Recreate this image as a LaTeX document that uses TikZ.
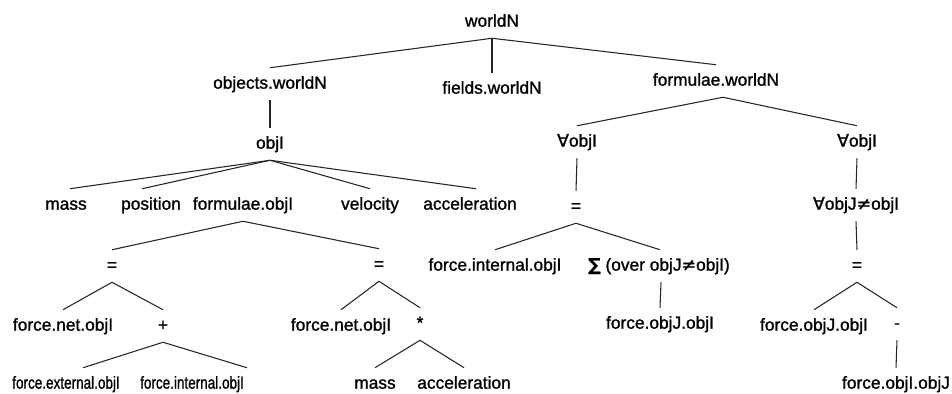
\documentclass[tikz,border=0pt]{standalone}
\usepackage{fontspec}
\setmainfont{Liberation Sans}[FakeBold=1.2]
\newfontfamily\symf{DejaVu Sans}[FakeBold=1.2]
\usetikzlibrary{calc}
\newcommand{\nar}[1]{\scalebox{0.78}[1]{#1}}
\begin{document}
\begin{tikzpicture}[x=0.75pt,y=-0.75pt,
  lbl/.style={font=\fontsize{13}{15}\selectfont, text height=10pt, text depth=3pt,
              inner ysep=5.5pt, inner xsep=0pt, anchor=center},
  br/.style={draw=black!85, line width=0.8pt}]
\useasboundingbox (0,0) rectangle (952,393);
% row 1
\node[lbl] (w) at (492,22) {worldN};
% row 2
\node[lbl] (ow) at (270,84) {objects.worldN};
\node[lbl] (fld) at (492,89) {fields.worldN};
\node[lbl] (fw) at (716,81) {formulae.worldN};
% row 3
\node[lbl] (oi) at (270,144) {objI};
\node[lbl] (fa) at (577,142) {{\symf ∀}objI};
\node[lbl] (fb) at (857,142) {{\symf ∀}objI};
% row 4
\node[lbl] (mass) at (66,205) {mass};
\node[lbl] (pos) at (151,205) {position};
\node[lbl] (fo) at (243,205) {formulae.objI};
\node[lbl] (vel) at (370,205) {velocity};
\node[lbl] (acc) at (470,205) {acceleration};
\node[lbl] (eq1) at (576,207) {=};
\node[lbl] (fj) at (856,205) {{\symf ∀}objJ{\symf ≠}objI};
% row 5
\node[lbl] (eqa) at (112,266) {=};
\node[lbl] (eqb) at (379,265) {=};
\node[lbl] (fint) at (495,266) {force.internal.objI};
\node[lbl] (sig) at (659,266) {{\symf\bfseries ∑} (over objJ{\symf ≠}objI)};
\node[lbl] (eqc) at (857,266) {=};
% row 6
\node[lbl] (fn1) at (63,326) {force.net.objI};
\node[lbl] (plus) at (163,326) {+};
\node[lbl] (fn2) at (341,326) {force.net.objI};
\node[lbl] (star) at (420,324) {*};
\node[lbl] (fjo) at (660,324) {force.objJ.objI};
\node[lbl] (fjo2) at (814,326) {force.objJ.objI};
\node[lbl] (minus) at (897,324) {-};
% row 7
\node[lbl] (fext) at (66,384) {\nar{force.external.objI}};
\node[lbl] (fint2) at (192,384) {\nar{force.internal.objI}};
\node[lbl] (mass2) at (375,384) {mass};
\node[lbl] (acc2) at (464,384) {acceleration};
\node[lbl] (foj) at (896,384) {force.objI.objJ};
% connectors
\draw[br] (w.south) -- (ow.north);
\draw[br] (w.south) -- (fld.north);
\draw[br] (w.south) -- (fw.north);
\draw[br] (ow.south) -- (oi.north);
\draw[br] ($(fw.south)+(7,0)$) -- (fa.north);
\draw[br] ($(fw.south)+(7,0)$) -- (fb.north);
\draw[br] (oi.south) -- ($(mass.north)+(4,0)$);
\draw[br] (oi.south) -- ($(pos.north)+(-9,0)$);
\draw[br] (oi.south) -- (vel.north);
\draw[br] (oi.south) -- ($(acc.north)+(6,0)$);
\draw[br] (fa.south) -- (eq1.north);
\draw[br] (fb.south) -- (fj.north);
\draw[br] (fo.south) -- (eqa.north);
\draw[br] (fo.south) -- (eqb.north);
\draw[br] (eq1.south) -- (fint.north);
\draw[br] (eq1.south) -- ($(sig.north)+(1,0)$);
\draw[br] (fj.south) -- (eqc.north);
\draw[br] (eqa.south) -- (fn1.north);
\draw[br] (eqa.south) -- (plus.north);
\draw[br] (eqb.south) -- (fn2.north);
\draw[br] (eqb.south) -- (star.north);
\draw[br] ($(sig.south)+(2,0)$) -- (fjo.north);
\draw[br] (eqc.south) -- (fjo2.north);
\draw[br] (eqc.south) -- (minus.north);
\draw[br] (plus.south) -- ($(fext.north)+(17,0)$);
\draw[br] (plus.south) -- ($(fint2.north)+(55,0)$);
\draw[br] (star.south) -- (mass2.north);
\draw[br] (star.south) -- (acc2.north);
\draw[br] (minus.south) -- (foj.north);
\end{tikzpicture}
\end{document}
